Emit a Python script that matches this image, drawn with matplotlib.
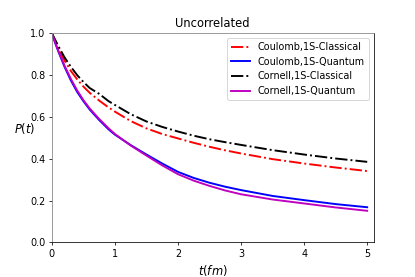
import numpy as np
import matplotlib
matplotlib.use("Agg")
import matplotlib.pyplot as plt

# values
t = [0, 0.05, 0.1, 0.2, 0.3, 0.4, 0.5, 0.6, 0.75, 0.9, 1, 1.25, 1.5, 1.75, 2, 2.25, 2.5, 2.75,
     3, 3.5, 4, 4.5, 5]
coulomb_classical = [1.0, 0.965, 0.93, 0.87, 0.82, 0.78, 0.745, 0.715, 0.678, 0.645, 0.625,
                     0.58, 0.545, 0.518, 0.497, 0.476, 0.457, 0.44, 0.425, 0.398, 0.377, 0.358, 0.341]
coulomb_quantum = [1.0, 0.955, 0.915, 0.84, 0.775, 0.72, 0.675, 0.635, 0.585, 0.54, 0.515,
                   0.465, 0.42, 0.377, 0.337, 0.308, 0.285, 0.266, 0.25, 0.222, 0.202, 0.183, 0.168]
cornell_classical = [1.0, 0.97, 0.94, 0.885, 0.84, 0.8, 0.767, 0.738, 0.71, 0.675, 0.657,
                     0.613, 0.578, 0.552, 0.53, 0.51, 0.493, 0.479, 0.466, 0.441, 0.42, 0.401, 0.385]
cornell_quantum = [1.0, 0.958, 0.918, 0.845, 0.782, 0.727, 0.68, 0.64, 0.59, 0.545, 0.518,
                   0.463, 0.415, 0.368, 0.326, 0.295, 0.27, 0.248, 0.23, 0.205, 0.186, 0.167, 0.151]

fig, ax = plt.subplots(figsize=(6, 4.005), dpi=415 / 6)
fig.subplots_adjust(left=0.125, right=0.9, top=0.88, bottom=0.125)

ax.plot(t, coulomb_classical, 'r-.', lw=2, label='Coulomb,1S-Classical')
ax.plot(t, coulomb_quantum, 'b-', lw=2, label='Coulomb,1S-Quantum')
ax.plot(t, cornell_classical, 'k-.', lw=2, label='Cornell,1S-Classical')
ax.plot(t, cornell_quantum, 'm-', lw=2, label='Cornell,1S-Quantum')

ax.set_xlim(0, 5.1)
ax.set_ylim(0, 1)
ax.set_title('Uncorrelated', fontsize=12)
ax.set_xlabel('$t(fm)$', fontsize=12)
ax.set_ylabel('$P(t)$', fontsize=12, rotation=0, ha='center', va='center')
ax.yaxis.set_label_coords(-0.083, 0.546)

# 上と左の枠線は灰色
ax.spines['top'].set_color('gray')
ax.spines['left'].set_color('gray')

ax.legend(loc='upper right')

plt.savefig('out.png')
